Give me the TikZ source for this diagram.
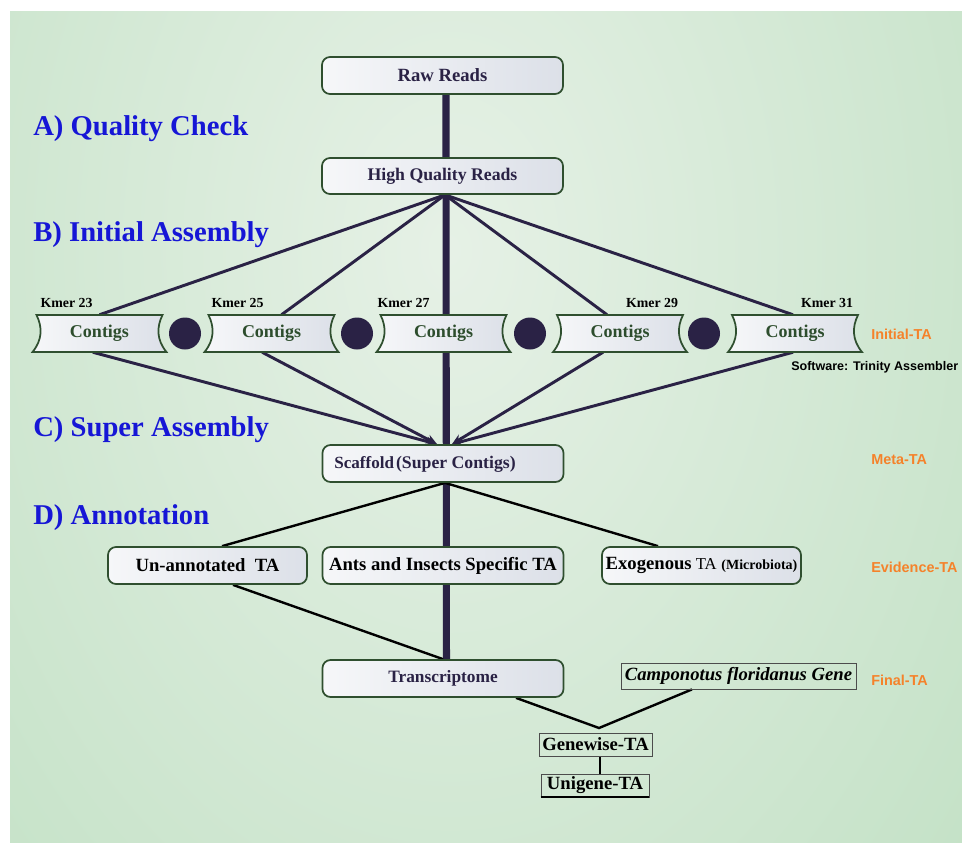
\documentclass[tikz,border=0pt]{standalone}
\usepackage{fontspec}
\setmainfont{Liberation Serif}
\newfontfamily\arialfont{Liberation Sans}
\usetikzlibrary{arrows.meta,calc}
\pgfdeclarelayer{bglayer}
\pgfdeclarelayer{linelayer}
\pgfsetlayers{bglayer,linelayer,main}
\definecolor{bgin}{HTML}{E6F1E6}
\definecolor{bgout}{HTML}{B1D9B5}
\definecolor{navy}{HTML}{2A2245}
\definecolor{boxgreen}{HTML}{2F4F2F}
\definecolor{boxl}{HTML}{F6F7F9}
\definecolor{boxr}{HTML}{DCE0E8}
\definecolor{contigtext}{HTML}{2D4D2D}
\definecolor{titleblue}{HTML}{1616D6}
\definecolor{tagorange}{HTML}{F5822A}
\newcommand\bannershape[1]{%
  \draw[bannerbox] ({#1-63},315) -- ({#1+63},315)
    .. controls ({#1+57},327) and ({#1+57},340) .. ({#1+67},352)
    -- ({#1-67},352)
    .. controls ({#1-57},340) and ({#1-57},327) .. ({#1-63},315) -- cycle;}
\tikzset{
  box/.style={draw=boxgreen, line width=1.3pt, rounded corners=6pt,
    left color=boxl, right color=boxr, inner sep=0pt, text=black,
    font=\bfseries\fontsize{14}{16}\selectfont},
  bannerbox/.style={draw=boxgreen, line width=1.3pt, left color=boxl, right color=boxr},
  bannertext/.style={inner sep=0pt, minimum width=95.25pt, minimum height=27.75pt,
    text=contigtext, font=\bfseries\fontsize{13.5}{15}\selectfont},
  kmer/.style={inner sep=0pt, font=\bfseries\fontsize{10.4}{12}\selectfont},
  dotnode/.style={circle, fill=navy, inner sep=0pt, minimum size=24pt},
  plainbox/.style={draw=gray!60!black, line width=0.6pt, inner sep=0pt,
    font=\bfseries\fontsize{14}{16}\selectfont},
  sectiontitle/.style={anchor=base west, inner sep=0pt, text=titleblue,
    font=\bfseries\fontsize{21.5}{24}\selectfont},
  tag/.style={anchor=west, inner sep=0pt, text=tagorange,
    font=\arialfont\bfseries\fontsize{10.8}{12}\selectfont},
  thickline/.style={draw=navy, line width=5.3pt},
  fanline/.style={draw=navy, line width=2.2pt},
  thinline/.style={draw=black, line width=1.8pt},
}
\begin{document}
\begin{tikzpicture}[x=0.75pt,y=-0.75pt]
\useasboundingbox (0,0) rectangle (962,842);
\begin{pgfonlayer}{bglayer}
\fill[white] (0,0) rectangle (962,842);
\begin{scope}
  \clip (10,12) rectangle (962,842);
  \fill[inner color=bgin, outer color=bgout] (450,250) ellipse [x radius=1050, y radius=1500];
\end{scope}
\end{pgfonlayer}

% section titles
\node[sectiontitle] (ta) at (33,135) {A) Quality Check};
\node[sectiontitle] (tb) at (33,241) {B) Initial Assembly};
\node[sectiontitle] (tc) at (33,436) {C) Super Assembly};
\node[sectiontitle] (td) at (33,524) {D) Annotation};

% orange tags
\node[tag] (tinit) at (871,334) {Initial-TA};
\node[tag] (tmeta) at (871,460) {Meta-TA};
\node[tag] (tevid) at (871,567) {Evidence-TA};
\node[tag] (tfinal) at (871,680) {Final-TA};
\node[anchor=west, inner sep=0pt, font=\arialfont\bfseries\fontsize{9.4}{11}\selectfont] (soft) at (791,367) {Software: Trinity Assembler};

% main boxes
\node[box, minimum width=180.75pt, minimum height=27.75pt, text=navy] (raw) at (442.5,75.5) {Raw Reads};
\node[box, minimum width=180.75pt, minimum height=27pt, text=navy, font=\bfseries\fontsize{13.3}{15}\selectfont] (hq) at (442.5,176) {High Quality Reads};

% contig banners
\bannershape{99.5}
\bannershape{271.5}
\bannershape{443.5}
\bannershape{620}
\bannershape{795}
\node[bannertext] (b1) at (99.5,333.5) {Contigs};
\node[bannertext] (b2) at (271.5,333.5) {Contigs};
\node[bannertext] (b3) at (443.5,333.5) {Contigs};
\node[bannertext] (b4) at (620,333.5) {Contigs};
\node[bannertext] (b5) at (795,333.5) {Contigs};
\node[kmer] (k1) at (66.5,303) {Kmer 23};
\node[kmer] (k2) at (237.5,303) {Kmer 25};
\node[kmer] (k3) at (403.5,303) {Kmer 27};
\node[kmer] (k4) at (652,303) {Kmer 29};
\node[kmer] (k5) at (827,303) {Kmer 31};
\node[dotnode] (d1) at (185,333.5) {};
\node[dotnode] (d2) at (357,333.5) {};
\node[dotnode] (d3) at (530,333.5) {};
\node[dotnode] (d4) at (704,333.5) {};

% scaffold
\node[box, minimum width=180.75pt, minimum height=27.75pt] (scaf) at (443,463.5) {};
\node[inner sep=0pt, text=navy, font=\bfseries\fontsize{13.3}{15}\selectfont] (scaftext) at (425,464) {{\fontsize{12.8}{15}\selectfont Scaffold}\kern1.5pt(Super Contigs)};

% annotation boxes
\node[box, minimum width=149.25pt, minimum height=27.75pt] (unann) at (207.5,565.5) {Un-annotated\ \ TA};
\node[box, minimum width=180.75pt, minimum height=27.75pt] (ants) at (443,565.5) {Ants and Insects Specific TA};
\node[box, minimum width=149.25pt, minimum height=27.75pt] (exo) at (701.5,565.5) {Exogenous{\mdseries\fontsize{12.5}{15}\selectfont\ TA} {\fontsize{10.5}{12}\selectfont(Microbiota)}};
\node[box, minimum width=180.75pt, minimum height=27.75pt, text=navy, font=\bfseries\fontsize{13}{15}\selectfont] (trans) at (443,678.5) {Transcriptome};
\node[plainbox, minimum width=176.25pt, minimum height=19.5pt, font=\bfseries\itshape\fontsize{14}{16}\selectfont] (cf) at (738.5,676) {Camponotus floridanus Gene};
\node[plainbox, minimum width=84.75pt, minimum height=17.25pt] (gene) at (595.5,744.5) {Genewise-TA};
\node[plainbox, minimum width=81pt, minimum height=17.25pt] (uni) at (595,785.5) {Unigene-TA};
\draw[line width=1.5pt] (uni.south west) -- (uni.south east);

\coordinate (hqf) at ([xshift=1.9pt]hq.south);
\coordinate (sl) at ([xshift=-4.5pt]scaf.north);
\coordinate (sr) at ([xshift=6.75pt]scaf.north);
\coordinate (v) at (599,728);

\begin{pgfonlayer}{linelayer}
  \draw[thickline] ([xshift=2.6pt]raw.south) -- ([xshift=2.6pt]trans.north);
  \draw[fanline] (hqf) -- (b1.north);
  \draw[fanline] (hqf) -- ([xshift=7.5pt]b2.north);
  \draw[fanline] (hqf) -- ([xshift=-9.75pt]b4.north);
  \draw[fanline] (hqf) -- ([xshift=-1.5pt]b5.north);
  \draw[fanline, -{Stealth[length=8pt,width=7pt]}] ([xshift=-5pt]b1.south) -- (sl);
  \draw[fanline, -{Stealth[length=8pt,width=7pt]}] ([xshift=-7pt]b2.south) -- (sl);
  \draw[fanline, -{Stealth[length=8pt,width=7pt]}] ([xshift=-12.75pt]b4.south) -- (sr);
  \draw[fanline, -{Stealth[length=8pt,width=7pt]}] ([xshift=-1.5pt]b5.south) -- (sr);
  \draw[thinline] ([xshift=1.5pt]scaf.south) -- ([xshift=10.9pt]unann.north);
  \draw[thinline] ([xshift=1.5pt]scaf.south) -- ([xshift=-32.6pt]exo.north);
  \draw[thinline] ([xshift=19.1pt]unann.south) -- (trans.north);
  \draw[thinline] ([xshift=54.75pt]trans.south) -- (v) -- ([xshift=-34.9pt]cf.south);
  \draw[thinline] ([xshift=3.4pt]gene.south) -- ([xshift=3.4pt]gene.south |- uni.north);
\end{pgfonlayer}
\end{tikzpicture}
\end{document}
